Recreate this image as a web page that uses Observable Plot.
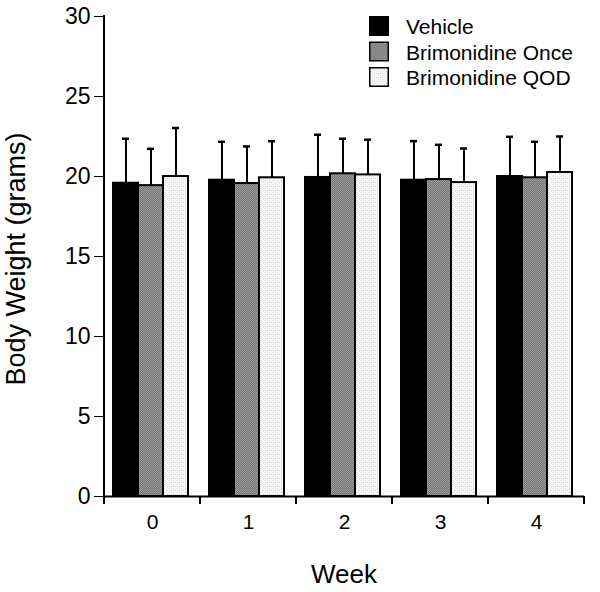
<!DOCTYPE html>
<html>
<head>
<meta charset="utf-8">
<script src="https://cdn.jsdelivr.net/npm/d3@7"></script>
<script src="https://cdn.jsdelivr.net/npm/@observablehq/plot@0.6"></script>
<style>
  html, body { margin: 0; padding: 0; background: white; }
  #chart { width: 600px; height: 592px; }
</style>
</head>
<body>
<div id="chart"></div>
<script>
const weeks = ["0", "1", "2", "3", "4"];
const series = ["Vehicle", "Brimonidine Once", "Brimonidine QOD"];
const vehicleMean = [19.58, 19.77, 19.94, 19.77, 20.0];
const vehicleSD   = [2.78, 2.40, 2.67, 2.44, 2.48];
const onceMean    = [19.43, 19.56, 20.17, 19.81, 19.92];
const onceSD      = [2.30, 2.32, 2.19, 2.17, 2.25];
const qodMean     = [20.0, 19.92, 20.1, 19.62, 20.25];
const qodSD       = [3.03, 2.29, 2.20, 2.13, 2.25];
const yTicks = [0, 5, 10, 15, 20, 25, 30];

const means = [vehicleMean, onceMean, qodMean];
const sds = [vehicleSD, onceSD, qodSD];
const rows = [];
weeks.forEach((w, i) => series.forEach((s, j) => rows.push({week: w, series: s, mean: means[j][i], sd: sds[j][i]})));

const fills = ["black", "url(#patOnce)", "url(#patQOD)"];
const font = "Liberation Sans, Arial, Helvetica, sans-serif";

const plot = Plot.plot({
  width: 600,
  height: 592,
  marginLeft: 104,
  marginRight: 16,
  marginTop: 16,
  marginBottom: 96,
  style: {fontFamily: font, fontSize: "20px", color: "black", background: "white"},
  fx: {domain: weeks, padding: 0, label: null, axis: "bottom", tickSize: 0, tickPadding: 18},
  x: {domain: series, axis: null, paddingInner: 0, paddingOuter: 0.35, align: 0.45},
  y: {domain: [0, 30], ticks: yTicks, tickSize: 10, tickPadding: 4, label: null},
  color: {domain: series, range: fills},
  marks: [
    Plot.ruleX(rows, {fx: "week", x: "series", y1: "mean", y2: d => d.mean + d.sd, stroke: "black", strokeWidth: 2}),
    Plot.tickY(rows, {fx: "week", x: "series", y: d => d.mean + d.sd, stroke: "black", strokeWidth: 2.5, insetLeft: 9, insetRight: 9}),
    Plot.barY(rows, {fx: "week", x: "series", y: "mean", fill: "series", stroke: "black", strokeWidth: 2}),
    Plot.ruleY([0], {stroke: "black", strokeWidth: 2})
  ]
});

document.getElementById("chart").appendChild(plot);

const svg = d3.select(plot);
// axis tick labels: fx labels 21px, y labels 23px
svg.selectAll("text").style("font-size", "21px").style("font-family", font);
svg.selectAll("[aria-label^='y-axis'] text").style("font-size", "23px");

const defs = svg.insert("defs", ":first-child");
const p1 = defs.append("pattern").attr("id", "patOnce").attr("patternUnits", "userSpaceOnUse").attr("width", 2).attr("height", 2);
p1.append("rect").attr("width", 2).attr("height", 2).attr("fill", "#747474");
p1.append("rect").attr("width", 1).attr("height", 1).attr("fill", "#9c9c9c");
p1.append("rect").attr("x", 1).attr("y", 1).attr("width", 1).attr("height", 1).attr("fill", "#9c9c9c");
const p2 = defs.append("pattern").attr("id", "patQOD").attr("patternUnits", "userSpaceOnUse").attr("width", 4).attr("height", 4);
p2.append("rect").attr("width", 4).attr("height", 4).attr("fill", "#f8f8f8");
p2.append("rect").attr("x", 1).attr("y", 0).attr("width", 1).attr("height", 1).attr("fill", "#d6d6d6");
p2.append("rect").attr("x", 3).attr("y", 2).attr("width", 1).attr("height", 1).attr("fill", "#d6d6d6");
p2.append("rect").attr("x", 1).attr("y", 2).attr("width", 1).attr("height", 1).attr("fill", "#e6e6e6");

const fx = plot.scale("fx");
const y = plot.scale("y");
const y0 = y.apply(0), y30 = y.apply(30);
const xLeft = fx.apply(weeks[0]);
const step = fx.step || fx.bandwidth;
const axes = svg.append("g").attr("stroke", "black").attr("stroke-width", 2);
// y-axis line
axes.append("line").attr("x1", xLeft).attr("x2", xLeft).attr("y1", y30 - 1).attr("y2", y0 + 1);
// x-axis boundary ticks
const bounds = weeks.map(w => fx.apply(w)).concat([fx.apply(weeks[weeks.length - 1]) + step]);
bounds.forEach(b => axes.append("line").attr("x1", b).attr("x2", b).attr("y1", y0).attr("y2", y0 + 8));

// axis titles
svg.append("text").attr("transform", `translate(25,${(y0 + y30) / 2 + 3}) rotate(-90)`)
  .attr("text-anchor", "middle").style("font-family", font).style("font-size", "27px").attr("fill", "black")
  .text("Body Weight (grams)");
svg.append("text").attr("x", (bounds[0] + bounds[bounds.length - 1]) / 2).attr("y", 583)
  .attr("text-anchor", "middle").style("font-family", font).style("font-size", "26px").attr("fill", "black")
  .text("Week");

// legend
const leg = svg.append("g").attr("transform", "translate(369,16)");
series.forEach((s, i) => {
  const g = leg.append("g").attr("transform", `translate(0,${i * 25.5})`);
  g.append("rect").attr("x", 0.75).attr("y", 0.75).attr("width", 18.5).attr("height", 18.5)
    .attr("fill", fills[i]).attr("stroke", "black").attr("stroke-width", 1.5);
  g.append("text").attr("x", 37).attr("y", 18).attr("text-anchor", "start")
    .style("font-family", font).style("font-size", "21px").attr("fill", "black").text(s);
});
</script>
</body>
</html>
